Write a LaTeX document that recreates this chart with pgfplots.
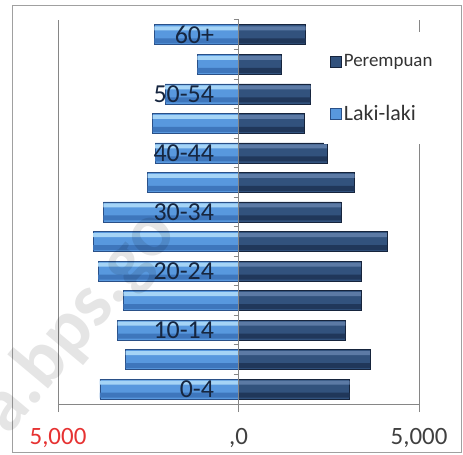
\documentclass[border=0pt]{standalone}
\usepackage{pgfplots}
\pgfplotsset{compat=1.18}
\usepackage{fontspec}
\setmainfont{Carlito}
\definecolor{lakiTop}{RGB}{165,212,246}
\definecolor{lakiMid}{RGB}{88,152,222}
\definecolor{lakiBot}{RGB}{62,118,188}
\definecolor{lakiEdge}{RGB}{42,80,135}
\definecolor{perTop}{RGB}{92,122,165}
\definecolor{perMid}{RGB}{50,82,125}
\definecolor{perBot}{RGB}{32,55,90}
\definecolor{perEdge}{RGB}{22,36,60}
\definecolor{labnavy}{RGB}{22,38,64}
\definecolor{gridgray}{RGB}{134,134,134}
\definecolor{tickred}{RGB}{230,50,50}
\definecolor{ticktext}{RGB}{64,64,64}
\definecolor{framegray}{RGB}{160,160,160}
\pgfplotstableread{
y  laki   per
0  -3840  3080
1  -3130  3640
2  -3350  2960
3  -3190  3390
4  -3890  3390
5  -4030  4110
6  -3740  2840
7  -2520  3220
8  -2310  2450
9  -2380  1810
10 -2030  2000
11 -1140  1190
12 -2330  1860
}\pyr
\begin{document}
\begin{tikzpicture}
\useasboundingbox (-58bp,-51bp) rectangle (405bp,404bp);
\draw[framegray, line width=0.8bp] (-46bp,-48bp) rectangle (403bp,399bp);
\begin{axis}[
  at={(0,0)}, anchor=south west,
  width=361bp, height=384bp, scale only axis,
  axis on top,
  xmin=-5000, xmax=5000,
  ymin=-0.5, ymax=12.5,
  axis x line*=bottom,
  axis y line*=middle,
  y axis line style={draw=none},
  x axis line style={gridgray, line width=1bp},
  xtick={-5000,0,5000},
  xticklabels={{\textcolor{tickred}{5,000}},{,0},{5,000}},
  xticklabel style={text=ticktext, font=\fontsize{25}{28}\selectfont, yshift=-13bp},
  xmajorgrids,
  grid style={gridgray, line width=1bp},
  x tick style={gridgray, line width=1bp},
  tick align=outside,
  major tick length=8bp,
  ytick={0,...,12},
  yticklabels={0-4,,10-14,,20-24,,30-34,,40-44,,50-54,,60+},
  yticklabel style={text=labnavy, font=\fontsize{26}{30}\selectfont, xshift=-13bp},
  y tick style={draw=none},
  minor ytick={-0.5,0.5,...,12.5},
  minor y tick style={draw=gridgray, line width=1bp},
  minor tick length=5bp,
  legend style={at={(rel axis cs:0.737,0.968)}, anchor=north west,
    draw=none, fill=white, inner xsep=6bp, inner ysep=20bp, row sep=33bp,
    nodes={inner sep=2bp}, text=black!80},
  legend cell align=left,
  legend image code/.code={\path[#1, draw] (0bp,-5.5bp) rectangle (11bp,5.5bp);},
  every axis plot/.append style={xbar, bar width=20bp, bar shift=0pt},
]
% Perempuan (right)
\addplot[fill=perMid, draw=perEdge, line width=0.6bp] table[x=per, y=y] {\pyr};
\addlegendentry{\fontsize{19}{22}\selectfont Perempuan}
% Laki-laki (left)
\addplot[fill=lakiMid, draw=lakiEdge, line width=0.6bp] table[x=laki, y=y] {\pyr};
\addlegendentry{\fontsize{22}{25}\selectfont Laki-laki}
% bevel highlights and shadows
\addplot[forget plot, fill=perTop, draw=none, bar width=4bp, bar shift=6.5bp] table[x=per, y=y] {\pyr};
\addplot[forget plot, fill=perBot, draw=none, bar width=5bp, bar shift=-6bp] table[x=per, y=y] {\pyr};
\addplot[forget plot, fill=lakiTop, draw=none, bar width=4bp, bar shift=6.5bp] table[x=laki, y=y] {\pyr};
\addplot[forget plot, fill=lakiBot, draw=none, bar width=5bp, bar shift=-6bp] table[x=laki, y=y] {\pyr};
\end{axis}
\node[rotate=50, anchor=base west, text=black, opacity=0.1, font=\bfseries\fontsize{76}{76}\selectfont, inner sep=0pt] at (-50bp,-33bp) {a.bps.go};
\end{tikzpicture}
\end{document}
